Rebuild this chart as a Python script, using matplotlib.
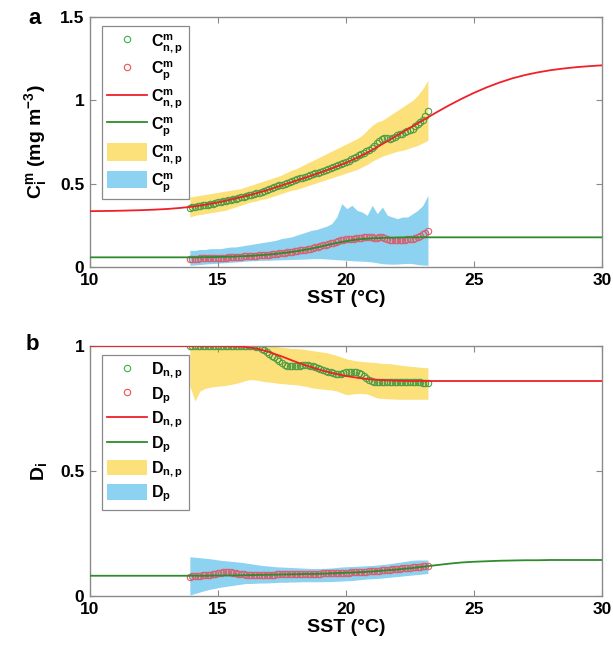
import numpy as np
import matplotlib
matplotlib.use("Agg")
import matplotlib.pyplot as plt
from matplotlib.lines import Line2D
from matplotlib.patches import Patch

plt.rcParams['font.family'] = ['Liberation Sans', 'DejaVu Sans']
plt.rcParams['mathtext.fontset'] = 'custom'
plt.rcParams['mathtext.rm'] = 'Liberation Sans'
plt.rcParams['mathtext.it'] = 'Liberation Sans:italic'
plt.rcParams['mathtext.bf'] = 'Liberation Sans:bold'

# ---------------- data ----------------
# observation grid (SST, degC)
obs_sst = np.round(np.arange(13.9, 23.25, 0.1), 1)
# uncertainty-band grid
band_sst = np.linspace(13.9, 23.2, 48)
# model grid
model_sst = np.arange(10.0, 30.01, 0.5)

# panel a: observed medians
c_np_obs = [0.355,0.360,0.362,0.365,0.368,0.370,0.372,0.375,0.378,0.381,
            0.385,0.388,0.392,0.395,0.398,0.400,0.404,0.408,0.411,0.414,
            0.418,0.422,0.426,0.430,0.434,0.438,0.442,0.447,0.452,0.457,
            0.462,0.467,0.472,0.478,0.484,0.490,0.495,0.500,0.505,0.510,
            0.515,0.520,0.526,0.532,0.537,0.542,0.547,0.552,0.557,0.562,
            0.567,0.572,0.578,0.584,0.590,0.596,0.602,0.608,0.614,0.620,
            0.626,0.632,0.638,0.646,0.654,0.662,0.670,0.678,0.686,0.695,
            0.705,0.716,0.728,0.742,0.758,0.770,0.775,0.772,0.770,0.775,
            0.782,0.790,0.796,0.800,0.808,0.815,0.822,0.830,0.845,0.858,
            0.870,0.885,0.905,0.935]
c_p_obs = [0.050,0.050,0.051,0.051,0.052,0.052,0.053,0.053,0.054,0.054,
           0.055,0.055,0.056,0.057,0.057,0.058,0.059,0.060,0.061,0.062,
           0.063,0.064,0.065,0.066,0.067,0.068,0.069,0.070,0.071,0.073,
           0.074,0.075,0.077,0.078,0.080,0.082,0.084,0.086,0.088,0.090,
           0.092,0.095,0.097,0.100,0.102,0.105,0.108,0.111,0.114,0.118,
           0.122,0.126,0.130,0.134,0.138,0.142,0.146,0.150,0.155,0.160,
           0.164,0.167,0.169,0.170,0.171,0.172,0.174,0.176,0.178,0.180,
           0.182,0.180,0.176,0.175,0.180,0.178,0.172,0.168,0.165,0.163,
           0.162,0.162,0.163,0.164,0.165,0.166,0.168,0.170,0.174,0.180,
           0.188,0.196,0.206,0.218]
# panel a: model curves
c_np_model = [0.335,0.336,0.337,0.339,0.341,0.344,0.348,0.354,0.362,0.374,
              0.388,0.405,0.423,0.443,0.465,0.490,0.515,0.540,0.567,0.595,
              0.625,0.660,0.700,0.745,0.790,0.835,0.880,0.925,0.968,1.008,
              1.045,1.078,1.107,1.132,1.152,1.168,1.181,1.191,1.199,1.205,
              1.210]
c_p_model = [0.058,0.058,0.058,0.058,0.058,0.058,0.058,0.058,0.058,0.059,
             0.060,0.062,0.065,0.069,0.075,0.083,0.093,0.106,0.122,0.140,
             0.155,0.166,0.172,0.175,0.177,0.178,0.178,0.178,0.178,0.178,
             0.178,0.178,0.178,0.178,0.178,0.178,0.178,0.178,0.178,0.178,
             0.178]
# panel a: uncertainty bands
c_np_upper = [0.42,0.425,0.43,0.435,0.44,0.445,0.45,0.455,0.46,0.465,
              0.47,0.48,0.49,0.50,0.51,0.52,0.53,0.54,0.55,0.565,
              0.58,0.59,0.605,0.62,0.635,0.65,0.665,0.68,0.695,0.71,
              0.725,0.74,0.755,0.77,0.79,0.82,0.85,0.87,0.88,0.90,
              0.92,0.94,0.96,0.98,1.00,1.03,1.07,1.12]
c_np_lower = [0.30,0.31,0.315,0.32,0.325,0.33,0.335,0.34,0.35,0.36,
              0.37,0.38,0.39,0.395,0.405,0.41,0.42,0.43,0.44,0.45,
              0.46,0.465,0.475,0.485,0.495,0.505,0.515,0.525,0.535,0.545,
              0.555,0.565,0.575,0.585,0.60,0.615,0.635,0.65,0.665,0.675,
              0.685,0.695,0.70,0.71,0.72,0.73,0.745,0.76]
c_p_upper = [0.10,0.10,0.105,0.105,0.11,0.11,0.11,0.115,0.12,0.12,
             0.125,0.13,0.135,0.14,0.145,0.15,0.155,0.16,0.17,0.175,
             0.18,0.19,0.20,0.21,0.22,0.225,0.235,0.245,0.26,0.30,
             0.38,0.35,0.37,0.34,0.33,0.31,0.37,0.32,0.36,0.31,
             0.30,0.29,0.30,0.30,0.32,0.34,0.37,0.43]
c_p_lower = [0.010,0.012,0.015,0.018,0.020,0.022,0.024,0.026,0.028,0.030,
             0.032,0.035,0.037,0.038,0.040,0.040,0.041,0.042,0.043,0.044,
             0.045,0.046,0.047,0.048,0.050,0.050,0.050,0.048,0.046,0.044,
             0.042,0.040,0.038,0.036,0.035,0.033,0.030,0.025,0.020,0.018,
             0.017,0.018,0.020,0.022,0.020,0.015,0.012,0.010]

# panel b: observed medians
d_np_obs = [1.0]*20 + [
            1.0,1.0,1.0,1.0,1.0,1.0,0.998,0.995,0.990,0.985,
            0.978,0.970,0.962,0.955,0.948,0.940,0.932,0.926,0.922,0.920,
            0.920,0.920,0.921,0.922,0.924,0.925,0.924,0.922,0.920,0.917,
            0.913,0.910,0.906,0.902,0.898,0.895,0.892,0.890,0.889,0.890,
            0.892,0.895,0.897,0.898,0.897,0.895,0.892,0.888,0.880,0.872,
            0.865,0.860,0.857,0.855,0.855,0.856,0.857,0.858,0.858,0.857,
            0.856,0.857,0.858,0.858,0.857,0.856,0.855,0.855,0.856,0.856,
            0.855,0.854,0.853,0.852]
d_p_obs = [0.078,0.079,0.080,0.081,0.082,0.083,0.084,0.085,0.086,0.088,
           0.090,0.092,0.094,0.095,0.096,0.097,0.096,0.094,0.092,0.090,
           0.088,0.087,0.086,0.085,0.085,0.085,0.085,0.085,0.085,0.085,
           0.086,0.086,0.086,0.086,0.087,0.087,0.087,0.087,0.087,0.088,
           0.088,0.088,0.088,0.088,0.088,0.089,0.089,0.089,0.089,0.090,
           0.090,0.090,0.091,0.091,0.091,0.092,0.092,0.092,0.093,0.093,
           0.093,0.094,0.094,0.095,0.095,0.096,0.096,0.097,0.097,0.098,
           0.099,0.099,0.100,0.101,0.102,0.103,0.104,0.105,0.106,0.107,
           0.108,0.109,0.110,0.111,0.112,0.113,0.114,0.115,0.116,0.117,
           0.118,0.119,0.120,0.121]
# panel b: model curves
d_np_model = [1.0]*11 + [0.999,0.997,0.990,0.976,0.958,0.938,0.920,0.904,
              0.891,0.880,0.872,0.866,0.863,0.861] + [0.86]*16
d_p_model = [0.081,0.081,0.081,0.081,0.081,0.081,0.081,0.081,0.081,0.081,
             0.082,0.082,0.083,0.084,0.085,0.086,0.087,0.088,0.089,0.091,
             0.093,0.095,0.098,0.102,0.106,0.111,0.117,0.123,0.129,0.134,
             0.137,0.139,0.141,0.142,0.143,0.143,0.144,0.144,0.144,0.144,
             0.144]
# panel b: uncertainty bands
d_np_upper = [1.0]*17 + [0.998,0.995,0.993,0.99,0.99,0.988,0.985,0.982,0.979,
              0.976,0.973,0.968,0.962,0.955,0.948,0.944,0.94,0.938,0.936,
              0.935,0.933,0.93,0.93,0.928,0.925,0.922,0.92,0.918,0.916,
              0.914,0.913]
d_np_lower = [0.84,0.78,0.82,0.83,0.835,0.838,0.84,0.842,0.846,0.85,
              0.855,0.862,0.866,0.864,0.86,0.857,0.855,0.852,0.85,0.848,
              0.846,0.845,0.842,0.838,0.833,0.83,0.828,0.826,0.824,0.82,
              0.812,0.805,0.808,0.81,0.81,0.808,0.80,0.792,0.79,0.789,
              0.788,0.787,0.787,0.787,0.787,0.787,0.787,0.787]
d_p_upper = [0.157,0.155,0.153,0.151,0.149,0.146,0.143,0.141,0.139,0.137,
             0.135,0.132,0.129,0.126,0.123,0.121,0.119,0.117,0.116,0.115,
             0.114,0.113,0.112,0.111,0.110,0.110,0.110,0.111,0.112,0.114,
             0.116,0.117,0.118,0.119,0.120,0.121,0.122,0.124,0.126,0.128,
             0.131,0.134,0.137,0.140,0.143,0.144,0.144,0.144]
d_p_lower = [0.004,0.010,0.016,0.022,0.027,0.031,0.035,0.038,0.041,0.044,
             0.047,0.050,0.050,0.051,0.052,0.052,0.053,0.054,0.055,0.055,
             0.056,0.056,0.057,0.057,0.057,0.057,0.057,0.058,0.058,0.059,
             0.060,0.061,0.062,0.064,0.066,0.068,0.069,0.070,0.072,0.074,
             0.076,0.078,0.080,0.082,0.084,0.086,0.088,0.090]

x_ticks = [10, 15, 20, 25, 30]
a_yticks = [0, 0.5, 1, 1.5]
a_yticklabels = ['0', '0.5', '1', '1.5']
b_yticks = [0, 0.5, 1]
b_yticklabels = ['0', '0.5', '1']

# ---------------- styles ----------------
YELLOW = '#FCE07A'
BLUE = '#8DD2F0'
RED = '#F0202A'
GREEN = '#2E8B2E'
MK_GREEN = '#4E9E46'
MK_RED = '#D8606E'
SPINE = '#8a8a8a'

fig = plt.figure(figsize=(6.13, 6.51), dpi=100)
axa = fig.add_axes([90/613, 1-267/651, 512/613, 250/651])
axb = fig.add_axes([90/613, 1-596/651, 512/613, 250/651])


def draw(ax, name, obs1, obs2, mod1, mod2, up1, lo1, up2, lo2, ylim, yt, ytl,
         lspace, hheight):
    ax.fill_between(band_sst, lo1, up1, color=YELLOW, lw=0, zorder=1)
    ax.fill_between(band_sst, lo2, up2, color=BLUE, lw=0, zorder=1)
    ax.plot(obs_sst, obs1, 'o', mfc='none', mec=MK_GREEN, ms=4.6, mew=0.8, zorder=2)
    ax.plot(obs_sst, obs2, 'o', mfc='none', mec=MK_RED, ms=4.6, mew=0.8, zorder=2)
    ax.plot(model_sst, mod1, color=RED, lw=1.3, zorder=3)
    ax.plot(model_sst, mod2, color=GREEN, lw=1.3, zorder=3)
    ax.set_xlim(10, 30)
    ax.set_ylim(*ylim)
    ax.set_xticks(x_ticks)
    ax.set_xticklabels([str(t) for t in x_ticks], fontweight='bold', fontsize=12.5)
    ax.set_yticks(yt)
    ax.set_yticklabels(ytl, fontweight='bold', fontsize=12.5)
    ax.tick_params(direction='in', length=4, width=0.8, color=SPINE,
                   top=True, right=True, pad=4)
    for s in ax.spines.values():
        s.set_color(SPINE)
        s.set_linewidth(1.0)
    ax.set_xlabel('SST (°C)', fontweight='bold', fontsize=14, labelpad=2)

    lab1 = name[0]
    lab2 = name[1]
    handles = [
        Line2D([], [], ls='none', marker='o', mfc='none', mec='#3CB043', ms=4.6, mew=0.8),
        Line2D([], [], ls='none', marker='o', mfc='none', mec='#F05050', ms=4.6, mew=0.8),
        Line2D([], [], color=RED, lw=1.3),
        Line2D([], [], color=GREEN, lw=1.3),
        Patch(facecolor=YELLOW, edgecolor='none'),
        Patch(facecolor=BLUE, edgecolor='none'),
    ]
    labels = [lab1, lab2, lab1, lab2, lab1, lab2]
    leg = ax.legend(handles, labels, loc='upper left', bbox_to_anchor=(0.023, 0.964),
                    borderaxespad=0, fontsize=11.5, handlelength=2.5, handleheight=hheight,
                    labelspacing=lspace, handletextpad=0.25, borderpad=0.35,
                    fancybox=False, framealpha=1, edgecolor=SPINE)
    leg.get_frame().set_linewidth(0.9)


draw(axa, [r'$\mathbf{C^{m}_{n,p}}$', r'$\mathbf{C^{m}_{p}}$'],
     c_np_obs, c_p_obs, c_np_model, c_p_model,
     c_np_upper, c_np_lower, c_p_upper, c_p_lower,
     (0, 1.5), a_yticks, a_yticklabels, 0.3, 1.3)
draw(axb, [r'$\mathbf{D_{n,p}}$', r'$\mathbf{D_{p}}$'],
     d_np_obs, d_p_obs, d_np_model, d_p_model,
     d_np_upper, d_np_lower, d_p_upper, d_p_lower,
     (0, 1), b_yticks, b_yticklabels, 0.25, 1.15)

axa.set_ylabel(r'$\mathbf{C_i^m}$ (mg m$\mathbf{^{-3}}$)', fontweight='bold', fontsize=14, labelpad=8)
axb.set_ylabel(r'$\mathbf{D_i}$', fontweight='bold', fontsize=14, labelpad=8)

fig.text(35/613, 1-19/651, 'a', fontweight='bold', fontsize=16, ha='center', va='center')
fig.text(32/613, 1-345/651, 'b', fontweight='bold', fontsize=16, ha='center', va='center')

fig.savefig('out.png', dpi=100)
